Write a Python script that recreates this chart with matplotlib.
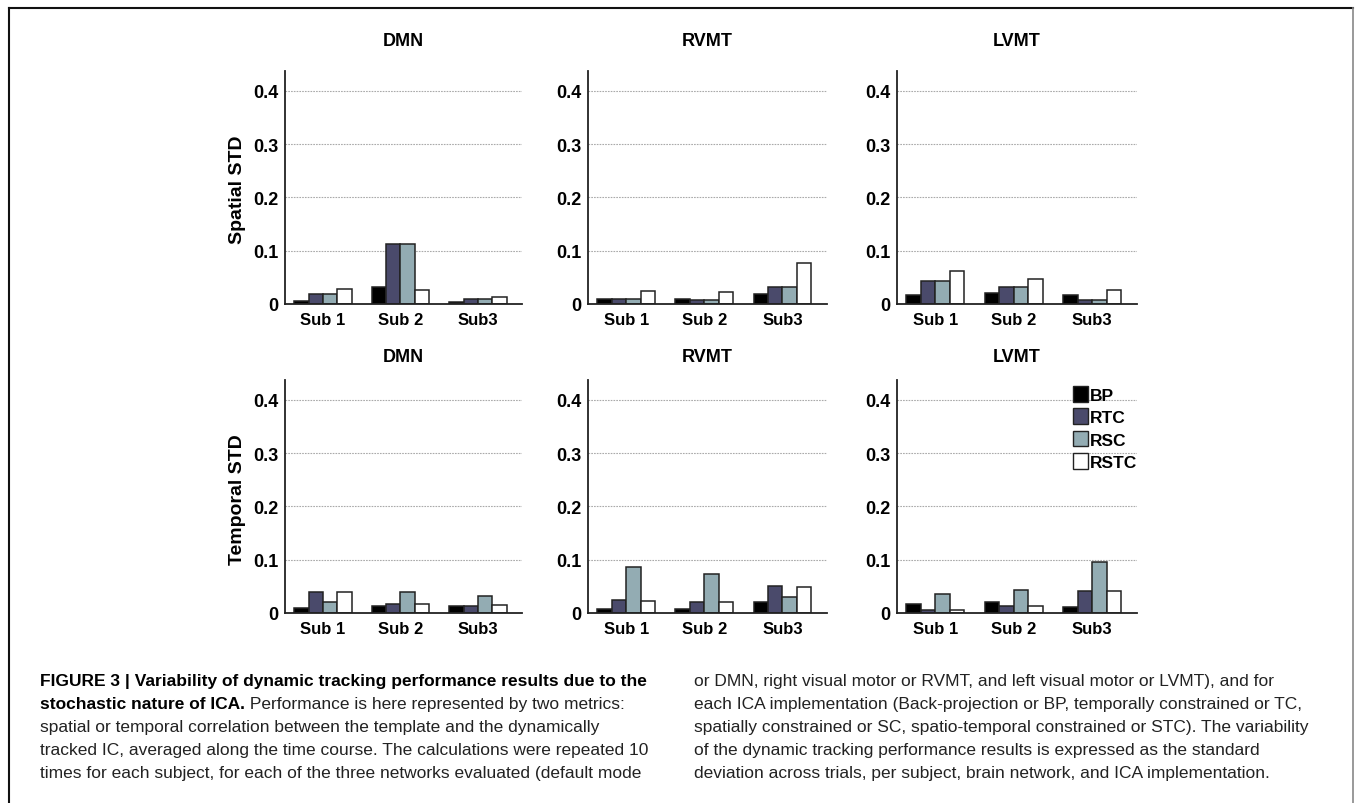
import matplotlib
matplotlib.use("Agg")
import matplotlib.pyplot as plt
import numpy as np
from matplotlib.patches import Patch
from matplotlib.lines import Line2D

# ---------------------------------
# Data (rows: BP, RTC, RSC, RSTC / columns: Sub 1, Sub 2, Sub3)
# ---------------------------------

subjects = ["Sub 1", "Sub 2", "Sub3"]
methods = ["BP", "RTC", "RSC", "RSTC"]
networks = ["DMN", "RVMT", "LVMT"]

spatial_dmn = [[0.005, 0.032, 0.004],
               [0.019, 0.112, 0.009],
               [0.019, 0.112, 0.009],
               [0.028, 0.026, 0.0135]]
spatial_rvmt = [[0.009, 0.010, 0.0185],
                [0.010, 0.008, 0.032],
                [0.010, 0.008, 0.032],
                [0.025, 0.023, 0.0765]]
spatial_lvmt = [[0.016, 0.021, 0.017],
                [0.043, 0.032, 0.008],
                [0.043, 0.032, 0.008],
                [0.062, 0.0465, 0.027]]

temporal_dmn = [[0.0095, 0.014, 0.014],
                [0.0385, 0.0177, 0.0135],
                [0.0215, 0.0385, 0.031],
                [0.0385, 0.0177, 0.015]]
temporal_rvmt = [[0.0083, 0.0077, 0.0207],
                 [0.024, 0.021, 0.050],
                 [0.087, 0.0735, 0.030],
                 [0.023, 0.021, 0.048]]
temporal_lvmt = [[0.0174, 0.0207, 0.0116],
                 [0.0064, 0.014, 0.041],
                 [0.036, 0.0426, 0.096],
                 [0.0058, 0.014, 0.042]]

rows = [
    ("Spatial STD", [spatial_dmn, spatial_rvmt, spatial_lvmt]),
    ("Temporal STD", [temporal_dmn, temporal_rvmt, temporal_lvmt]),
]

yticks = [0, 0.1, 0.2, 0.3, 0.4]
ytick_labels = ["0", "0.1", "0.2", "0.3", "0.4"]

colors = ["#000000", "#4a4a6b", "#93acb3", "#ffffff"]

caption_left = [
    ("FIGURE 3 | Variability of dynamic tracking performance results due to the", ""),
    ("stochastic nature of ICA.", " Performance is here represented by two metrics:"),
    ("", "spatial or temporal correlation between the template and the dynamically"),
    ("", "tracked IC, averaged along the time course. The calculations were repeated 10"),
    ("", "times for each subject, for each of the three networks evaluated (default mode"),
]
caption_right = [
    "or DMN, right visual motor or RVMT, and left visual motor or LVMT), and for",
    "each ICA implementation (Back-projection or BP, temporally constrained or TC,",
    "spatially constrained or SC, spatio-temporal constrained or STC). The variability",
    "of the dynamic tracking performance results is expressed as the standard",
    "deviation across trials, per subject, brain network, and ICA implementation.",
]

# ---------------------------------
# Figure
# ---------------------------------

W, H = 1355, 804
plt.rcParams["font.family"] = ["Liberation Sans Narrow", "Liberation Sans", "DejaVu Sans"]

fig = plt.figure(figsize=(W / 100, H / 100), dpi=100)

col_left = [285, 588, 897]
col_width = [237, 239, 240]
row_zero = [305, 614]
ax_h = 233
title_y = [41, 358]
ylabel_y = [190, 500]

bar_w = 0.185
x = np.arange(len(subjects))

for r, (ylabel, panels) in enumerate(rows):
    for c, data in enumerate(panels):
        ax = fig.add_axes([
            col_left[c] / W,
            (H - row_zero[r]) / H,
            col_width[c] / W,
            ax_h / H,
        ])

        for m, vals in enumerate(data):
            ax.bar(
                x + (m - 1.5) * bar_w,
                vals,
                width=bar_w,
                color=colors[m],
                edgecolor="#222222",
                linewidth=1.1,
                label=methods[m],
            )

        ax.set_xlim(-0.49, 2.57)
        ax.set_ylim(0, 0.4375)
        ax.set_yticks(yticks)
        ax.set_yticklabels(ytick_labels, fontsize=13, fontweight="bold")
        ax.set_xticks(x)
        ax.set_xticklabels(subjects, fontsize=12, fontweight="bold")
        ax.tick_params(length=0)
        ax.tick_params(axis="y", pad=5)
        ax.tick_params(axis="x", pad=6)

        ax.yaxis.grid(True, color="#aaaaaa", linestyle=(0, (1.5, 1)), linewidth=0.8)
        ax.set_axisbelow(True)

        for side in ["top", "right"]:
            ax.spines[side].set_visible(False)
        for side in ["left", "bottom"]:
            ax.spines[side].set_linewidth(1.3)
            ax.spines[side].set_color("#222222")

        fig.text(
            (col_left[c] + col_width[c] / 2) / W,
            1 - title_y[r] / H,
            networks[c],
            ha="center", va="center",
            fontsize=13, fontweight="bold",
        )

        if r == 1 and c == 2:
            handles = [Patch(facecolor=colors[i], edgecolor="#222222",
                             linewidth=1.0, label=methods[i]) for i in range(4)]
            fig.legend(
                handles=handles,
                loc="upper left",
                bbox_to_anchor=(1073 / W, 1 - 387 / H),
                frameon=False,
                borderpad=0,
                borderaxespad=0,
                handlelength=0.88,
                handleheight=1.0,
                handletextpad=0.1,
                labelspacing=0.33,
                prop={"weight": "bold", "size": 12.5},
            )

    fig.text(
        237 / W, 1 - ylabel_y[r] / H, ylabel,
        rotation=90, ha="center", va="center",
        fontsize=14, fontweight="bold",
    )

# ---------------------------------
# Frame around the figure
# ---------------------------------

fig.add_artist(Line2D([9 / W, 1353 / W], [1 - 9 / H, 1 - 9 / H],
                      transform=fig.transFigure, color="#111111", linewidth=1.5))
fig.add_artist(Line2D([9 / W, 9 / W], [0, 1 - 9 / H],
                      transform=fig.transFigure, color="#111111", linewidth=1.5))
fig.add_artist(Line2D([1353 / W, 1353 / W], [0, 1 - 9 / H],
                      transform=fig.transFigure, color="#888888", linewidth=1.2))

# ---------------------------------
# Caption
# ---------------------------------

cap_font = ["Liberation Sans", "DejaVu Sans"]
cap_size = 12.5
line_y = [686, 709, 732, 755, 778]

renderer = fig.canvas.get_renderer()

for i, (bold_part, normal_part) in enumerate(caption_left):
    xpos = 40 / W
    ypos = 1 - line_y[i] / H
    if bold_part:
        t = fig.text(xpos, ypos, bold_part, ha="left", va="baseline",
                     fontsize=cap_size, fontweight="bold", family=cap_font)
        bb = t.get_window_extent(renderer)
        xpos = bb.x1 / W
    if normal_part:
        fig.text(xpos, ypos, normal_part, ha="left", va="baseline",
                 fontsize=cap_size, family=cap_font, color="#222222")

for i, line in enumerate(caption_right):
    fig.text(694 / W, 1 - line_y[i] / H, line, ha="left", va="baseline",
             fontsize=cap_size, family=cap_font, color="#222222")

fig.savefig("out.png", dpi=100)
plt.close(fig)
